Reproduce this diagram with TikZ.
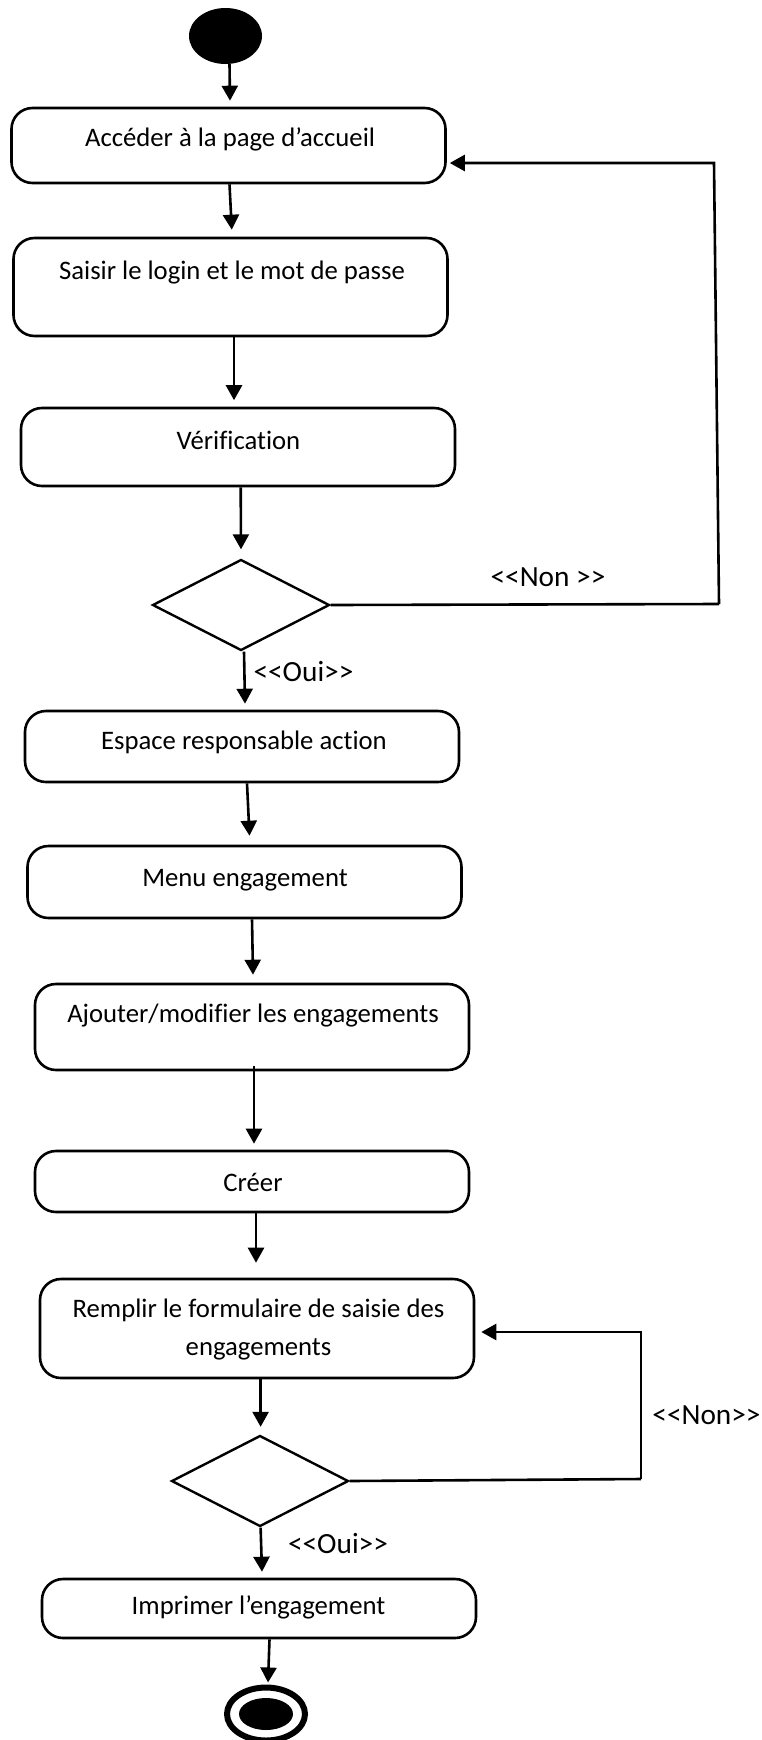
\documentclass[tikz,border=0pt]{standalone}
\usepackage{fontspec}
\setmainfont{Carlito}[Ligatures={NoCommon}]
\usetikzlibrary{arrows.meta,shapes.geometric}
\newcommand\guard[1]{<\kern0pt<#1>\kern0pt>}
\begin{document}
\begin{tikzpicture}[x=1pt,y=-1pt,
  act/.style={draw, line width=2.6pt, rounded corners=21pt, minimum width=434pt, inner sep=0pt},
  txt/.style={font=\fontsize{26.7}{38}\selectfont, inner sep=0pt, align=center},
  lbl/.style={font=\fontsize{29.3}{34}\selectfont, inner sep=0pt},
  choice/.style={draw, diamond, line width=2.4pt, inner sep=0pt, minimum width=177pt, minimum height=91pt},
  flow/.style={line width=2.6pt, -{Triangle[width=16pt,length=15pt]}},
  wire/.style={line width=2.6pt}
]
\fill[white] (0,0) rectangle (762,1740);
\clip (0,0) rectangle (762,1740);

% initial and final states
\node[ellipse, fill=black, inner sep=0pt, minimum width=73pt, minimum height=56pt] (start) at (225.5,36) {};
\node[ellipse, draw, line width=6pt, inner sep=0pt, minimum width=78pt, minimum height=53pt] (stop) at (266,1714) {};
\node[ellipse, fill=black, inner sep=0pt, minimum width=54pt, minimum height=32pt] (stopdot) at (266,1714) {};

% activities
\node[act, minimum height=75pt] (b1) at (228.5,145.5) {};
\node[txt] at (230,139) {Accéder à la page d’accueil};
\node[act, minimum height=98pt] (b2) at (230.5,287) {};
\node[txt] at (232,273) {Saisir le login et le mot de passe};
\node[act, minimum height=78pt] (b3) at (238,447) {};
\node[txt] at (238.5,440) {Vérification};
\node[act, minimum height=71pt] (b4) at (242,746.5) {};
\node[txt] at (244,742) {Espace responsable action};
\node[act, minimum height=72pt] (b5) at (244.5,882) {};
\node[txt] at (245,880) {Menu engagement};
\node[act, minimum height=86pt] (b6) at (252,1027) {};
\node[txt] at (253,1016) {Ajouter/modifier les engagements};
\node[act, minimum height=61pt] (b7) at (252,1181.5) {};
\node[txt] at (253,1182) {Créer};
\node[act, minimum height=99pt] (b8) at (257,1328.5) {};
\node[txt] at (258.5,1330) {Remplir le formulaire de saisie des\\engagements};
\node[act, minimum height=59pt] (b9) at (259,1608.5) {};
\node[txt] at (258.5,1607) {Imprimer l’engagement};

% decisions
\node[choice] (d1) at (241,605) {};
\node[choice] (d2) at (260,1481) {};

% main flow
\draw[flow] ([xshift=4pt]start.south) -- ([xshift=1.5pt,yshift=6pt]b1.north);
\draw[flow] ([xshift=1pt]b1.south) -- ([xshift=1.3pt,yshift=7pt]b2.north);
\draw[flow] ([xshift=3.5pt]b2.south) -- ([xshift=-4pt,yshift=6.5pt]b3.north);
\draw[flow] ([xshift=2.7pt]b3.south) -- ([yshift=9pt]d1.north);
\draw[flow] ([xshift=3pt]d1.south) -- ([xshift=3pt,yshift=6pt]b4.north);
\draw[flow] ([xshift=5pt]b4.south) -- ([xshift=5pt,yshift=9pt]b5.north);
\draw[flow] ([xshift=7.5pt]b5.south) -- ([xshift=1pt,yshift=8pt]b6.north);
\draw[flow] ([xshift=2pt,yshift=5pt]b6.south) -- ([xshift=2pt,yshift=6pt]b7.north);
\draw[flow] ([xshift=4pt]b7.south) -- ([xshift=-1pt,yshift=15pt]b8.north);
\draw[flow] ([xshift=3.6pt]b8.south) -- ([xshift=0.6pt,yshift=7.5pt]d2.north);
\draw[flow] ([xshift=0.6pt]d2.south) -- ([xshift=3pt,yshift=6pt]b9.north);
\draw[flow] ([xshift=10.5pt]b9.south) -- ([xshift=2pt,yshift=2pt]stop.north);

% return loops
\coordinate (r1) at (719,604);
\coordinate (r1t) at (714,163);
\draw[wire] (d1.east) -- (r1);
\draw[flow] (r1) -- (r1t) -- ([xshift=3pt]b1.east |- r1t);
\coordinate (r2) at (641,1479);
\coordinate (r2t) at (641,1332);
\draw[wire] (d2.east) -- (r2);
\draw[flow] (r2) -- (r2t) -- ([xshift=6pt]b8.east |- r2t);

% guards
\node[lbl] at (548,577) {\guard{Non }};
\node[lbl] at (303.5,672) {\guard{Oui}};
\node[lbl] at (706.5,1415) {\guard{Non}};
\node[lbl] at (338,1544) {\guard{Oui}};
\end{tikzpicture}
\end{document}
